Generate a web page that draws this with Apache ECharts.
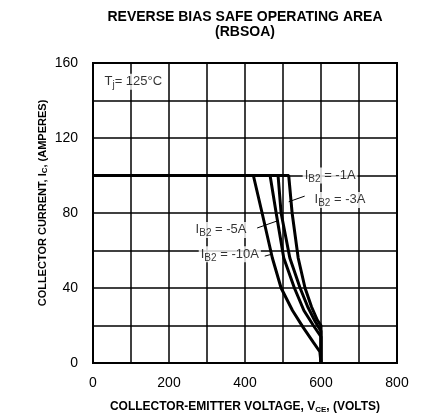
<!DOCTYPE html>
<html>
<head>
<meta charset="utf-8">
<script src="https://cdn.jsdelivr.net/npm/echarts@6/dist/echarts.min.js"></script>
<style>
  html, body { margin: 0; padding: 0; background: #fff; }
  #chart { width: 422px; height: 419px; }
</style>
</head>
<body>
<div id="chart"></div>
<script>
// 曲线数据 (VCE 伏, IC 安)
var vce10 = [0, 422, 445, 472, 495, 525, 553, 580, 597, 600];
var ic10  = [100, 100, 80, 56, 40, 28, 19, 11, 6, 0];
var vce5  = [0, 466, 482, 502, 530, 555, 580, 600, 600];
var ic5   = [100, 100, 80, 56, 40, 28, 20, 14, 0];
var vce3  = [0, 487, 495, 518, 545, 565, 585, 600, 600];
var ic3   = [100, 100, 80, 56, 40, 30, 22, 17, 0];
var vce1  = [0, 515, 524, 540, 558, 575, 590, 600, 600];
var ic1   = [100, 100, 80, 56, 40, 30, 23, 20, 0];

// 标注文字及位置 (数据坐标)
var noteText = ['{i|I}{s|B2}{t| = -1A}', '{i|I}{s|B2}{t| = -3A}', '{i|I}{s|B2}{t| = -5A}', '{i|I}{s|B2}{t| = -10A}'];
var noteV = [624, 650, 337, 360];
var noteI = [100, 87, 71, 58];
// 引线
var leaderV = [[515, 557], [432, 488], [452, 470]];
var leaderI = [[86, 89], [72, 76], [57, 58]];

var xTicks = [0, 200, 400, 600, 800];
var yTicks = [0, 40, 80, 120, 160];

function pairs(xs, ys){
  var out = [];
  for(var i=0;i<xs.length;i++){
    out.push([xs[i], ys[i]]);
  }
  return out;
}

var curveStyle = { color: '#000', width: 3 };
var font = 'Liberation Sans';
var richBase = {
  i: { fontFamily: font, fontSize: 13, color: '#000', lineHeight: 16 },
  s: { fontFamily: font, fontSize: 10, color: '#000', lineHeight: 16, padding: [7, 0, 0, 0] },
  t: { fontFamily: font, fontSize: 13, color: '#000', lineHeight: 16 }
};

var series = [];
[[vce10, ic10], [vce5, ic5], [vce3, ic3], [vce1, ic1]].forEach(function(c){
  series.push({
    type: 'line',
    data: pairs(c[0], c[1]),
    showSymbol: false,
    lineStyle: curveStyle,
    silent: true,
    z: 3
  });
});
for(var k=0;k<leaderV.length;k++){
  series.push({
    type: 'line',
    data: pairs(leaderV[k], leaderI[k]),
    showSymbol: false,
    lineStyle: { color: '#000', width: 1 },
    z: 4
  });
}
// 文字标注
var noteData = [];
for(var n=0;n<noteText.length;n++){
  noteData.push({ value: [noteV[n], noteI[n]], label: { formatter: noteText[n] } });
}
noteData.push({
  value: [25, 150],
  label: { formatter: '{i|T}{s|j}{t|= 125°C}', align: 'left' }
});
series.push({
  type: 'scatter',
  symbolSize: 0,
  data: noteData,
  z: 5,
  label: {
    show: true,
    position: 'inside',
    backgroundColor: '#fff',
    padding: [0, 2, 0, 2],
    rich: richBase
  }
});

var chart = echarts.init(document.getElementById('chart'));
var option = {
  animation: false,
  backgroundColor: '#fff',
  title: {
    text: 'REVERSE BIAS SAFE OPERATING AREA\n(RBSOA)',
    left: 240,
    top: 5,
    textAlign: 'center',
    textStyle: { fontFamily: font, fontSize: 14, fontWeight: 'bold', color: '#000', lineHeight: 15 }
  },
  grid: {
    left: 93, right: 25, top: 63, bottom: 51,
    show: true, borderColor: '#000', borderWidth: 2
  },
  xAxis: {
    type: 'value',
    min: 0, max: 800, interval: 100,
    name: 'COLLECTOR-EMITTER VOLTAGE, V{s|CE}, (VOLTS)',
    nameLocation: 'middle',
    nameGap: 37,
    nameTextStyle: {
      fontFamily: font, fontSize: 12, fontWeight: 'bold', color: '#000',
      rich: { s: { fontFamily: font, fontSize: 8, fontWeight: 'bold', color: '#000', padding: [6, 0, 0, 0] } }
    },
    axisLine: { show: false },
    axisTick: { show: false },
    splitLine: { show: true, lineStyle: { color: '#000', width: 1.5 } },
    axisLabel: {
      margin: 13,
      fontFamily: font, fontSize: 14, color: '#000',
      formatter: function(v){ return xTicks.indexOf(v) >= 0 ? v : ''; }
    }
  },
  yAxis: {
    type: 'value',
    min: 0, max: 160, interval: 20,
    name: 'COLLECTOR CURRENT, I{s|C}, (AMPERES)',
    nameLocation: 'middle',
    nameGap: 44,
    nameMoveOverlap: false,
    nameTextStyle: {
      fontFamily: font, fontSize: 11, fontWeight: 'bold', color: '#000',
      padding: [0, 0, 0, 20],
      rich: { s: { fontFamily: font, fontSize: 8, fontWeight: 'bold', color: '#000', padding: [5, 0, 0, 0] } }
    },
    axisLine: { show: false },
    axisTick: { show: false },
    splitLine: { show: true, lineStyle: { color: '#000', width: 1.5 } },
    axisLabel: {
      margin: 15,
      fontFamily: font, fontSize: 14, color: '#000',
      formatter: function(v){ return yTicks.indexOf(v) >= 0 ? v : ''; }
    }
  },
  series: series
};
chart.setOption(option);
</script>
</body>
</html>
